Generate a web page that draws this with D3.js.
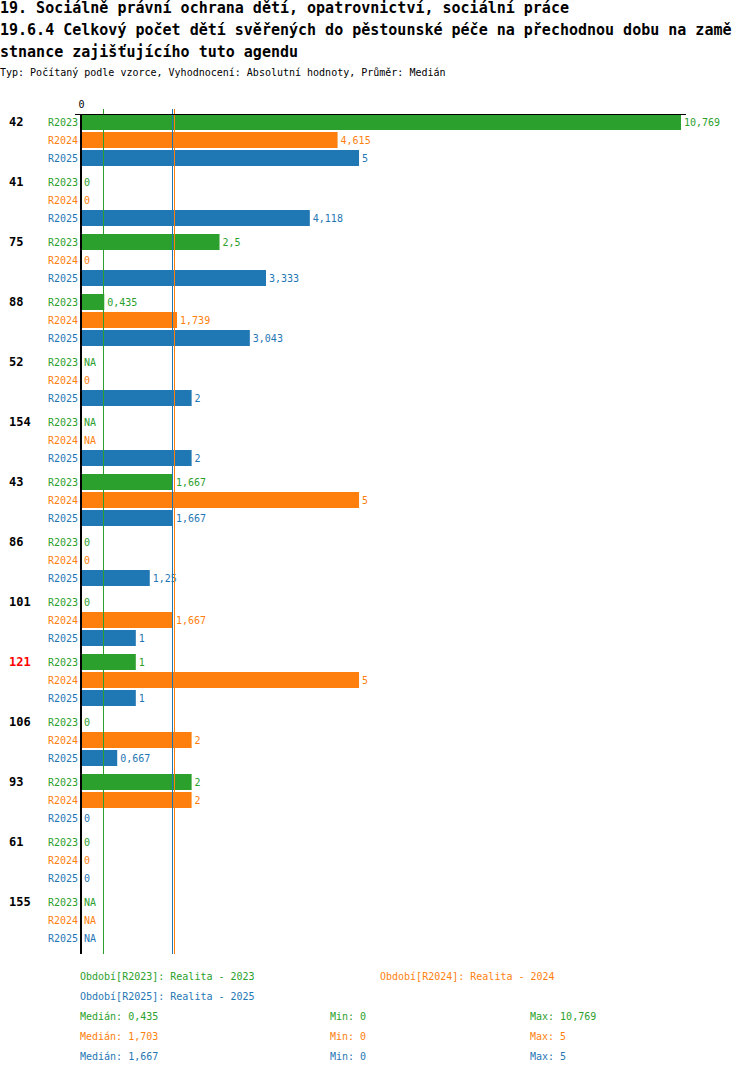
<!DOCTYPE html>
<html lang="cs">
<head>
<meta charset="UTF-8">
<title>19.6.4 Celkový počet dětí svěřených do pěstounské péče</title>
<script src="https://cdn.jsdelivr.net/npm/d3@7"></script>
<style>
  body { margin: 0; background: #fff; }
  text { font-family: "DejaVu Sans Mono", "Liberation Mono", monospace; }
</style>
</head>
<body>
<script>
  // data (null = NA)
  const groups = ["42", "41", "75", "88", "52", "154", "43", "86", "101", "121", "106", "93", "61", "155"];
  const highlighted = ["121"];
  const series = ["R2023", "R2024", "R2025"];
  const seriesNames = ["Realita - 2023", "Realita - 2024", "Realita - 2025"];
  const r2023 = [10.769, 0, 2.5, 0.435, null, null, 1.667, 0, 0, 1, 0, 2, 0, null];
  const r2024 = [4.615, 0, 0, 1.739, 0, null, 5, 0, 1.667, 5, 2, 2, 0, null];
  const r2025 = [5, 4.118, 3.333, 3.043, 2, 2, 1.667, 1.25, 1, 1, 0.667, 0, 0, null];
  const titleLines = [
    "19. Sociálně právní ochrana dětí, opatrovnictví, sociální práce",
    "19.6.4 Celkový počet dětí svěřených do pěstounské péče na přechodnou dobu na zamě",
    "stnance zajišťujícího tuto agendu"
  ];
  const subtitle = "Typ: Počítaný podle vzorce, Vyhodnocení: Absolutní hodnoty, Průměr: Medián";

  const values = [r2023, r2024, r2025];
  const colors = ["#2ca02c", "#ff7f0e", "#1f77b4"];
  const fmt = v => v == null ? "NA" : String(+(+v).toFixed(3)).replace(".", ",");

  const width = 750, height = 1074;
  const svg = d3.select("body").append("svg")
    .attr("width", width)
    .attr("height", height);

  // titles
  svg.selectAll("text.title")
    .data(titleLines)
    .enter()
    .append("text")
    .attr("class", "title")
    .attr("x", 0)
    .attr("y", (d, i) => 13 + i * 22)
    .style("font-size", "15px")
    .style("font-weight", "bold")
    .text(d => d);

  svg.append("text")
    .attr("x", 0)
    .attr("y", 76)
    .style("font-size", "10px")
    .text(subtitle);

  // scales
  const all = values.flat().filter(v => v != null);
  const x = d3.scaleLinear().domain([0, d3.max(all)]).range([80, 681]);
  const yGroup = d3.scaleBand().domain(groups).range([113, 113 + groups.length * 60]);
  const ySeries = d3.scaleBand().domain(series).range([0, 54]).paddingInner(1 / 9).paddingOuter(1 / 18);
  const bottom = yGroup.range()[1] + 1;

  const rows = [];
  groups.forEach((g, gi) => {
    series.forEach((s, si) => {
      rows.push({ group: g, series: s, si: si, value: values[si][gi] });
    });
  });
  const rowY = d => yGroup(d.group) + ySeries(d.series);

  // bars
  svg.append("g")
    .selectAll("rect")
    .data(rows.filter(d => d.value != null && d.value > 0))
    .enter()
    .append("rect")
    .attr("x", x(0))
    .attr("y", rowY)
    .attr("width", d => x(d.value) - x(0))
    .attr("height", ySeries.bandwidth())
    .attr("fill", d => colors[d.si]);

  // value labels
  svg.append("g")
    .selectAll("text")
    .data(rows)
    .enter()
    .append("text")
    .attr("x", d => (d.value ? x(d.value) : x(0) + 1) + 3)
    .attr("y", d => rowY(d) + ySeries.bandwidth() / 2)
    .attr("dominant-baseline", "central")
    .attr("fill", d => colors[d.si])
    .style("font-size", "10px")
    .text(d => fmt(d.value));

  // series labels
  svg.append("g")
    .selectAll("text")
    .data(rows)
    .enter()
    .append("text")
    .attr("x", 78)
    .attr("y", d => rowY(d) + ySeries.bandwidth() / 2)
    .attr("dominant-baseline", "central")
    .attr("text-anchor", "end")
    .attr("fill", d => colors[d.si])
    .style("font-size", "10px")
    .text(d => d.series);

  // group labels
  svg.append("g")
    .selectAll("text")
    .data(groups)
    .enter()
    .append("text")
    .attr("x", 9)
    .attr("y", d => yGroup(d) + ySeries(series[0]) + ySeries.bandwidth() / 2)
    .attr("dominant-baseline", "central")
    .attr("fill", d => highlighted.includes(d) ? "#ff0000" : "#000")
    .style("font-size", "12px")
    .style("font-weight", "bold")
    .text(d => d);

  // median lines
  const medians = values.map(v => d3.median(v.filter(d => d != null)));
  svg.append("g")
    .selectAll("line")
    .data(medians)
    .enter()
    .append("line")
    .attr("x1", d => Math.round(x(d)) - 0.5)
    .attr("x2", d => Math.round(x(d)) - 0.5)
    .attr("y1", 109)
    .attr("y2", bottom)
    .attr("stroke", (d, i) => colors[i])
    .attr("stroke-width", 1);

  // top axis with the zero tick
  const axis = svg.append("g")
    .attr("transform", "translate(0,114.5)")
    .call(d3.axisTop(x).tickValues([0]).tickSize(0).tickPadding(7).tickFormat(d3.format("d")));
  axis.select(".domain").remove();
  axis.selectAll("text")
    .attr("dx", 1)
    .style("font-family", "\"DejaVu Sans Mono\", monospace")
    .style("font-size", "10px");
  axis.append("line")
    .attr("x1", x(0) - 5)
    .attr("x2", x.range()[1] + 5)
    .attr("stroke", "#000");

  svg.append("line")
    .attr("x1", x(0) + 1)
    .attr("x2", x(0) + 1)
    .attr("y1", 114)
    .attr("y2", bottom)
    .attr("stroke", "#000")
    .attr("stroke-width", 2);

  // legend
  const legendPos = [[80, 976], [380, 976], [80, 996]];
  svg.append("g")
    .selectAll("text")
    .data(series)
    .enter()
    .append("text")
    .attr("x", (d, i) => legendPos[i][0])
    .attr("y", (d, i) => legendPos[i][1])
    .attr("dominant-baseline", "central")
    .attr("fill", (d, i) => colors[i])
    .style("font-size", "10px")
    .text((d, i) => `Období[${d}]: ${seriesNames[i]}`);

  const stats = values.map((v, i) => {
    const ok = v.filter(d => d != null);
    return [`Medián: ${fmt(medians[i])}`, `Min: ${fmt(d3.min(ok))}`, `Max: ${fmt(d3.max(ok))}`];
  });
  const statX = [80, 330, 530];
  stats.forEach((row, i) => {
    svg.append("g")
      .selectAll("text")
      .data(row)
      .enter()
      .append("text")
      .attr("x", (d, j) => statX[j])
      .attr("y", 1016 + i * 20)
      .attr("dominant-baseline", "central")
      .attr("fill", colors[i])
      .style("font-size", "10px")
      .text(d => d);
  });
</script>
</body>
</html>
